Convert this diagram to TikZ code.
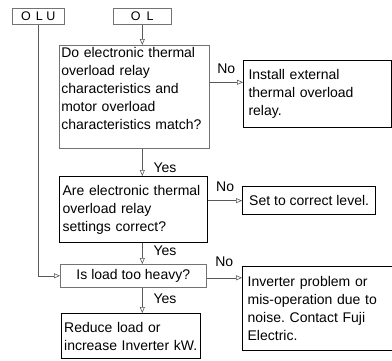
\documentclass[tikz,border=0pt]{standalone}
\usepackage{fontspec}
\setmainfont{Liberation Sans}
\usetikzlibrary{arrows.meta,positioning,calc}
\frenchspacing

\begin{document}
\begin{tikzpicture}[
  x=1pt, y=-1pt,
  box/.style={rectangle, draw, anchor=north west, align=left,
    inner ysep=0pt, font=\fontsize{14}{18}\selectfont},
  thinbox/.style={box, draw=black!55, line width=0.6pt},
  boldbox/.style={box, line width=1.3pt},
  tag/.style={rectangle, draw=black!55, line width=0.6pt, anchor=north west,
    minimum height=16pt, inner sep=0pt,
    font=\fontsize{12.5}{14}\selectfont},
  arrow/.style={-{Triangle[open,length=6pt,width=5pt]}, draw=black!65, line width=0.6pt},
  lbl/.style={font=\fontsize{14}{16}\selectfont, inner sep=1pt}
]
\useasboundingbox (0,0) rectangle (392,360);

\node[tag, minimum width=52pt] (olu) at (12,8)  {O\hspace{5pt}L\hspace{3.5pt}U};
\node[tag, minimum width=58pt] (ol)  at (113,8) {O\hspace{6pt}L};

\node[thinbox, inner xsep=2pt, text width=146pt, inner ysep=2pt,
  text height=10pt, text depth=89pt] (q1) at (59,45)
  {Do electronic thermal\\overload relay\\characteristics and\\motor overload\\characteristics match?};
\node[box, line width=1pt, inner xsep=5pt, text width=138pt, minimum height=67pt] (inst) at (243,60)
  {Install external\\thermal overload\\relay.};

\node[boldbox, inner xsep=3pt, text width=142pt, minimum height=66pt] (q2) at (59,176)
  {Are electronic thermal\\overload relay\\settings correct?};
\node[boldbox, align=center, minimum width=133pt, minimum height=28pt] (set) at (242,186)
  {Set to correct level.};

\node[thinbox, align=center, minimum width=146pt, minimum height=23pt] (q3) at (60,264)
  {Is load too heavy?};
\node[boldbox, inner xsep=5pt, text width=140pt, minimum height=84pt] (inv) at (242,266)
  {Inverter problem or\\mis-operation due to\\noise. Contact Fuji\\Electric.};

\node[boldbox, inner xsep=2.5pt, text width=134pt, minimum height=45pt] (red) at (61,313)
  {Reduce load or\\increase Inverter kW.};

% main column
\draw[arrow] (ol.south) -- (ol.south |- q1.north);
\draw[arrow] (q1.south -| ol.south) -- node[lbl, pos=0.71, right=10pt] {Yes} (q2.north -| ol.south);
\draw[arrow] (q2.south -| ol.south) -- node[lbl, pos=0.36, right=10pt] {Yes} (q3.north -| ol.south);
\draw[arrow] (q3.south -| ol.south) -- node[lbl, pos=0.42, right=10pt] {Yes} (red.north -| ol.south);
\draw[arrow] (olu.south) |- (q3.west);

% no branches
\coordinate (n1) at ([yshift=14.5pt]q1.east);
\draw[arrow] (n1) -- node[lbl, above=7pt] {No} (n1 -| inst.west);
\draw[arrow] (set.west -| q2.east) -- node[lbl, above=8pt] {No} (set.west);
\draw[arrow] ([yshift=-2pt]q3.east) -- node[lbl, above=10pt] {No} ([yshift=-2pt]q3.east -| inv.west);
\end{tikzpicture}
\end{document}
